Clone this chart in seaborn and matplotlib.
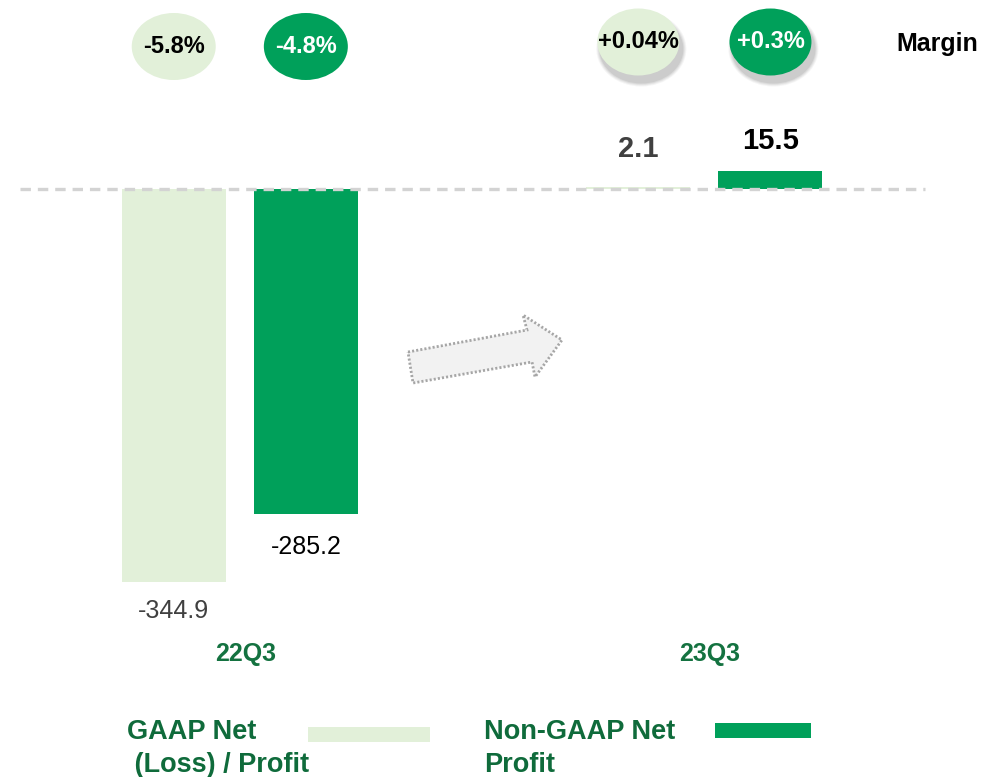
import numpy as np
import pandas as pd
import matplotlib
matplotlib.use("Agg")
import matplotlib.pyplot as plt
import matplotlib.transforms as mtransforms
from matplotlib.patches import Ellipse, Polygon, Rectangle
import seaborn as sns

# ---------------- data ----------------
periods = ["22Q3", "23Q3"]
series = ["GAAP Net (Loss) / Profit", "Non-GAAP Net Profit"]
gaap_values = [-344.9, 2.1]
nongaap_values = [-285.2, 15.5]
gaap_margins = ["-5.8%", "+0.04%"]
nongaap_margins = ["-4.8%", "+0.3%"]
gaap_labels = ["-344.9", "2.1"]
nongaap_labels = ["-285.2", "15.5"]
legend_lines = [["GAAP Net", " (Loss) / Profit"], ["Non-GAAP Net", "Profit"]]
margin_title = "Margin"

# ---------------- style ----------------
sns.set_theme(style="white")
plt.rcParams["font.family"] = ["Liberation Sans", "DejaVu Sans"]
plt.rcParams["lines.scale_dashes"] = False

LIGHT = "#E2F0D9"
DARK = "#00A05A"
TXT_GREEN = "#147240"
LEG_GREEN = "#0F6B3B"

W, H = 986, 777
fig = plt.figure(figsize=(W / 100, H / 100), dpi=100)
ax = fig.add_axes([0, 0, 1, 1])

df = pd.DataFrame({
    "period": periods * 2,
    "series": [series[0]] * 2 + [series[1]] * 2,
    "value": gaap_values + nongaap_values,
})

sns.barplot(data=df, x="period", y="value", hue="series", order=periods,
            hue_order=series, palette={series[0]: LIGHT, series[1]: DARK},
            saturation=1, width=0.5687, gap=0.2127, linewidth=0,
            legend=False, ax=ax, zorder=2)

# scales: zero line at pixel 189, 1.1386 px per unit, groups 464.6 px apart
ax.set_xlim(-0.5161, 1.6061)
ax.set_ylim(-516.4, 166.0)
ax.axis("off")

# dashed zero line
ax.axhline(0, xmin=20 / W, xmax=925 / W, color="#D3D3D3", lw=2.4,
           linestyle=(0, (7.5, 5.0)), zorder=3)

def px_to_fig(x, y):
    return (x / W, 1 - y / H)

blend = mtransforms.blended_transform_factory(ax.transData, ax.transAxes)

# value labels
label_sets = [
    (ax.containers[0], gaap_values, gaap_labels,
     [dict(color="#404040", fontweight="normal", fontsize=18),
      dict(color="#404040", fontweight="bold", fontsize=21)],
     [21, 27]),
    (ax.containers[1], nongaap_values, nongaap_labels,
     [dict(color="black", fontweight="normal", fontsize=18),
      dict(color="black", fontweight="bold", fontsize=21)],
     [24, 22]),
]
for cont, vals, labs, styles, pads in label_sets:
    for bar, v, lab, st, pad in zip(cont.patches, vals, labs, styles, pads):
        cx = bar.get_x() + bar.get_width() / 2
        off = -pad if v < 0 else pad
        ax.annotate(lab, (cx, v), xytext=(0, off), textcoords="offset points",
                    ha="center", va="center", **st)

# margin ellipses
ell_h = 67 / H
margin_sets = [
    (ax.containers[0], gaap_margins, LIGHT, "black"),
    (ax.containers[1], nongaap_margins, DARK, "white"),
]
for cont, margins, fc, tc in margin_sets:
    for i, (bar, m) in enumerate(zip(cont.patches, margins)):
        cx = bar.get_x() + bar.get_width() / 2
        cy = 1 - (46.5 if i == 0 else 42) / H
        w = (84 if i == 0 else 82) / 464.6
        if i == 1:
            # soft shadow
            for k, a in enumerate([0.06, 0.08, 0.10, 0.12]):
                grow = (4 - k) * 2.0
                ax.add_patch(Ellipse((cx + 3 / 464.6, cy - 7 / H),
                                     w + grow / 464.6, ell_h + grow / H,
                                     transform=blend, facecolor="#606060",
                                     edgecolor="none", alpha=a, zorder=4))
        ax.add_patch(Ellipse((cx, cy), w, ell_h, transform=blend,
                             facecolor=fc, edgecolor="none", zorder=5))
        ax.text(cx, cy, m, transform=blend, ha="center", va="center",
                fontsize=17, fontweight="bold", color=tc, zorder=6)

fig.text(*px_to_fig(937, 44), margin_title, ha="center", va="center",
         fontsize=18, fontweight="bold", color="black")

# category labels
for i, p in enumerate(periods):
    ax.text(i + 0.012, 1 - 654 / H, p, transform=blend, ha="center",
            va="center", fontsize=18, fontweight="bold", color=TXT_GREEN)

# arrow
arrow_px = [(408, 352), (527, 330), (523, 315), (562, 340),
            (535, 377), (532, 362), (413, 383)]
arrow = Polygon([px_to_fig(x, y) for x, y in arrow_px], closed=True,
                transform=fig.transFigure, facecolor="#F2F2F2",
                edgecolor="#A6A6A6", lw=2.0, linestyle=(0, (1.5, 1.5)))
fig.add_artist(arrow)

# legend
for x_px, lines in zip([127, 484], legend_lines):
    for j, line in enumerate(lines):
        fig.text(*px_to_fig(x_px, 739 + 33 * j), line, ha="left",
                 va="baseline", fontsize=19.5, fontweight="bold",
                 color=LEG_GREEN)
x0, y0 = px_to_fig(308, 742)
fig.add_artist(Rectangle((x0, y0), 122 / W, 15 / H, transform=fig.transFigure,
                         facecolor=LIGHT, edgecolor="none"))
x0, y0 = px_to_fig(715, 738)
fig.add_artist(Rectangle((x0, y0), 96 / W, 15 / H, transform=fig.transFigure,
                         facecolor=DARK, edgecolor="none"))

fig.savefig("out.png", dpi=100, facecolor="white")
